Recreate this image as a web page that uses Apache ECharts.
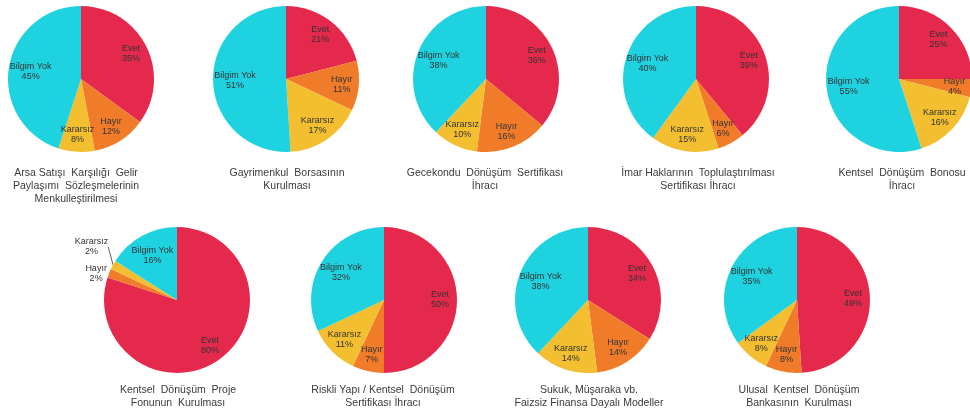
<!DOCTYPE html>
<html>
<head>
<meta charset="utf-8">
<script src="https://cdn.jsdelivr.net/npm/echarts@6/dist/echarts.min.js"></script>
<style>
  html, body { margin: 0; padding: 0; background: #ffffff; }
  #chart { width: 970px; height: 415px; }
</style>
</head>
<body>
<div id="chart"></div>
<script>
// Survey answers, in slice order (clockwise from 12 o'clock)
const answers = ['Evet', 'Hayır', 'Kararsız', 'Bilgim Yok'];

// One title per instrument
const titles = [
  'Arsa Satışı  Karşılığı  Gelir\nPaylaşımı  Sözleşmelerinin\nMenkulleştirilmesi',
  'Gayrimenkul  Borsasının\nKurulması',
  'Gecekondu  Dönüşüm  Sertifikası\nİhracı',
  'İmar Haklarının  Toplulaştırılması\nSertifikası İhracı',
  'Kentsel  Dönüşüm  Bonosu\nİhracı',
  'Kentsel  Dönüşüm  Proje\nFonunun  Kurulması',
  'Riskli Yapı / Kentsel  Dönüşüm\nSertifikası İhracı',
  'Sukuk, Müşaraka vb.\nFaizsiz Finansa Dayalı Modeller',
  'Ulusal  Kentsel  Dönüşüm\nBankasının  Kurulması'
];

// Shares (%) per answer, one entry per instrument
const evet      = [35, 21, 36, 39, 25, 80, 50, 34, 49];
const hayir     = [12, 11, 16,  6,  4,  2,  7, 14,  8];
const kararsiz  = [ 8, 17, 10, 15, 16,  2, 11, 14,  8];
const bilgimYok = [45, 51, 38, 40, 55, 16, 32, 38, 35];

const palette = ['#E5294D', '#F07C2A', '#F3BE2F', '#1FD2DF'];

// Pie placement: centre x / y, and title anchor
const pieX   = [81, 286, 486, 696, 899, 177, 384, 588, 797];
const pieY   = [79, 79, 79, 79, 79, 300, 300, 300, 300];
const titleX = [76, 287, 485, 698, 902, 178, 383, 589, 799];
const titleY = [167, 167, 167, 167, 167, 384, 384, 384, 384];
const R = 73;

// Pie with two tiny slices whose labels sit outside
const OUTSIDE_PIE = 5;

const FONT = '"Liberation Sans", Arial, sans-serif';
const TEXT = '#333333';

const labelBase = {
  show: true,
  position: 'inside',
  formatter: '{b}\n{c}%',
  fontFamily: FONT,
  fontSize: 9,
  lineHeight: 10,
  color: TEXT,
  align: 'center'
};

const series = [];
const titleOpts = [];

function ringSeries(i, inner, data, layout) {
  return {
    type: 'pie',
    center: [pieX[i], pieY[i]],
    radius: [inner, R],
    startAngle: 90,
    clockwise: true,
    silent: true,
    avoidLabelOverlap: false,
    itemStyle: { color: 'rgba(0,0,0,0)', borderWidth: 0 },
    label: labelBase,
    labelLine: { show: false },
    labelLayout: layout || { hideOverlap: false },
    data: data
  };
}

function outsideLabel(d, boxWidth, withLine) {
  return {
    name: d.name, value: d.value,
    label: {
      position: 'outside',
      distanceToLabelLine: 2,
      formatter: '{t|{b}}\n{t|{c}%}',
      rich: { t: { width: boxWidth, align: 'center', fontFamily: FONT, fontSize: 9, lineHeight: 10, color: TEXT } }
    },
    labelLine: {
      show: withLine,
      length: withLine ? 4 : 0,
      length2: 0,
      lineStyle: { color: TEXT, width: 0.8 }
    }
  };
}

for (let i = 0; i < titles.length; i++) {
  const values = [evet[i], hayir[i], kararsiz[i], bilgimYok[i]];
  const data = answers.map((name, k) => ({ name, value: values[k] }));
  const hidden = d => ({ name: d.name, value: d.value, label: { show: false } });

  // filled slices
  series.push({
    type: 'pie',
    center: [pieX[i], pieY[i]],
    radius: [0, R],
    startAngle: 90,
    clockwise: true,
    silent: true,
    avoidLabelOverlap: false,
    label: { show: false },
    labelLine: { show: false },
    itemStyle: { borderWidth: 0 },
    color: palette,
    data: data
  });

  // labels for Evet / Hayır / Kararsız
  const outer = i === OUTSIDE_PIE;
  series.push(ringSeries(i, 33, data.map((d, k) => {
    if (k === 3) return hidden(d);
    if (outer && k === 1) return outsideLabel(d, 22, false);
    if (outer && k === 2) return outsideLabel(d, 32, true);
    return d;
  }), outer ? function (p) {
    // lift the upper of the two stacked outside labels clear of the lower one
    if (p.dataIndex === 2) {
      return { y: p.labelRect.y + p.labelRect.height / 2 - 16, hideOverlap: false };
    }
    return { hideOverlap: false };
  } : null));

  // label for Bilgim Yok, set a little closer to the centre
  series.push(ringSeries(i, 23, data.map((d, k) => k === 3 ? d : hidden(d))));

  titleOpts.push({
    text: titles[i],
    left: titleX[i],
    top: titleY[i],
    textAlign: 'center',
    padding: 0,
    textStyle: {
      fontFamily: FONT,
      fontSize: 10.5,
      lineHeight: 13,
      fontWeight: 'normal',
      color: '#3a3a3a'
    }
  });
}

const chart = echarts.init(document.getElementById('chart'), null, { renderer: 'canvas' });
chart.setOption({
  animation: false,
  backgroundColor: '#ffffff',
  title: titleOpts,
  series: series
});
</script>
</body>
</html>
